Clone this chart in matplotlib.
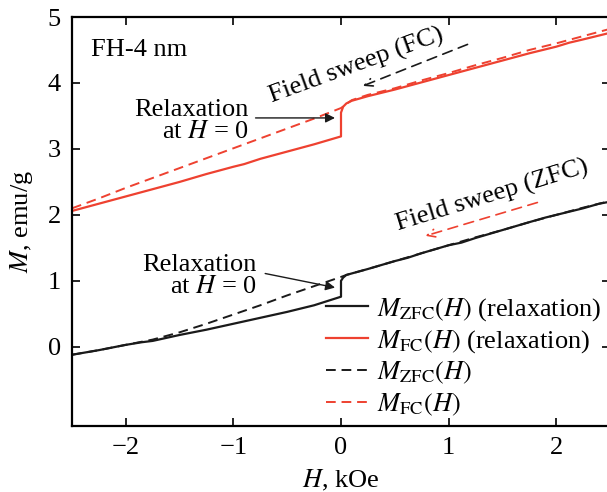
import numpy as np
import matplotlib
matplotlib.use('Agg')
import matplotlib.pyplot as plt

plt.rcParams['font.family'] = ['Liberation Serif', 'DejaVu Serif']
plt.rcParams['mathtext.fontset'] = 'stix'
plt.rcParams['font.size'] = 19

RED = '#ee4130'
BLACK = '#1a1a1a'

# ZFC, relaxation at H = 0 (solid black)
h_zfc_rel = [-2.5, -2.25, -2.0, -1.85, -1.75, -1.5, -1.25, -1.0, -0.75, -0.5, -0.25, 0.0,
             0.0, 0.02, 0.05, 0.25, 0.5, 0.62, 0.75, 1.0, 1.12, 1.25, 1.5, 1.75, 1.9, 2.0, 2.25, 2.4, 2.5]
m_zfc_rel = [-0.12, -0.05, 0.03, 0.07, 0.09, 0.18, 0.26, 0.35, 0.44, 0.53, 0.63, 0.76,
             1.00, 1.05, 1.09, 1.18, 1.30, 1.35, 1.42, 1.54, 1.58, 1.65, 1.77, 1.89, 1.96, 2.00, 2.10, 2.17, 2.20]

# ZFC, field sweep (dashed black)
h_zfc = [-2.5, -2.25, -2.0, -1.75, -1.5, -1.25, -1.0, -0.75, -0.5, -0.25, 0.0,
         0.05, 0.25, 0.5, 0.75, 1.0, 1.25, 1.5, 1.75, 2.0, 2.25, 2.5]
m_zfc = [-0.12, -0.05, 0.03, 0.11, 0.22, 0.35, 0.49, 0.63, 0.78, 0.92, 1.06,
         1.09, 1.18, 1.30, 1.42, 1.54, 1.66, 1.77, 1.89, 2.00, 2.11, 2.21]

# FC, relaxation at H = 0 (solid red)
h_fc_rel = [-2.5, -2.25, -2.0, -1.75, -1.5, -1.25, -1.0, -0.9, -0.75, -0.5, -0.25, 0.0,
            0.0, 0.02, 0.05, 0.1, 0.25, 0.5, 0.75, 1.0, 1.25, 1.5, 1.75, 2.0, 2.12, 2.25, 2.5]
m_fc_rel = [2.06, 2.17, 2.28, 2.39, 2.50, 2.62, 2.73, 2.77, 2.85, 2.96, 3.07, 3.19,
            3.55, 3.64, 3.69, 3.73, 3.80, 3.90, 4.01, 4.12, 4.23, 4.34, 4.45, 4.55, 4.61, 4.66, 4.76]

# FC, field sweep (dashed red)
h_fc = [-2.5, -2.25, -2.0, -1.75, -1.5, -1.25, -1.0, -0.75, -0.5, -0.25, 0.0,
        0.1, 0.25, 0.5, 0.75, 1.0, 1.25, 1.5, 1.75, 2.0, 2.25, 2.5]
m_fc = [2.10, 2.25, 2.41, 2.56, 2.71, 2.86, 3.01, 3.16, 3.31, 3.46, 3.62,
        3.74, 3.82, 3.92, 4.04, 4.15, 4.27, 4.38, 4.50, 4.60, 4.71, 4.82]

x_ticks = [-2, -1, 0, 1, 2]
y_ticks = [0, 1, 2, 3, 4, 5]

fig = plt.figure(figsize=(6.07, 4.92), dpi=100)
ax = fig.add_axes([72/607, 66/492, 538/607, 409/492])

dash = (0, (5, 3))
ax.plot(h_zfc_rel, m_zfc_rel, color=BLACK, lw=1.6, label=r'$M_{\mathrm{ZFC}}(H)$ (relaxation)')
ax.plot(h_fc_rel, m_fc_rel, color=RED, lw=1.6, label=r'$M_{\mathrm{FC}}(H)$ (relaxation)')
ax.plot(h_zfc, m_zfc, color=BLACK, lw=1.4, ls=dash, label=r'$M_{\mathrm{ZFC}}(H)$')
ax.plot(h_fc, m_fc, color=RED, lw=1.4, ls=dash, label=r'$M_{\mathrm{FC}}(H)$')

ax.set_xlim(-2.5, 2.5)
ax.set_ylim(-1.2, 5)
ax.set_xticks(x_ticks)
ax.set_yticks(y_ticks)
ax.tick_params(direction='in', length=6, width=1.2, top=True, right=True, pad=8)
for s in ax.spines.values():
    s.set_linewidth(1.6)
ax.set_xlabel(r'$H$, kOe', labelpad=6)
ax.set_ylabel(r'$M$, emu/g', labelpad=9)

ax.text(-2.32, 4.5, 'FH-4 nm', ha='left', va='center')

# relaxation arrows
ax.text(-0.86, 3.42, 'Relaxation\nat $H$ = 0', ha='right', va='center', linespacing=1.0)
ax.annotate('', xy=(-0.03, 3.47), xytext=(-0.82, 3.47),
            arrowprops=dict(arrowstyle='-|>', color=BLACK, lw=1.0, mutation_scale=14))
ax.text(-0.78, 1.08, 'Relaxation\nat $H$ = 0', ha='right', va='center', linespacing=1.0)
ax.annotate('', xy=(-0.03, 0.89), xytext=(-0.73, 1.12),
            arrowprops=dict(arrowstyle='-|>', color=BLACK, lw=1.0, mutation_scale=14))

# field sweep labels with dashed arrows
ax.text(0.16, 4.17, 'Field sweep (FC)', rotation=20, rotation_mode='anchor',
        ha='center', va='baseline')
ax.annotate('', xy=(0.18, 3.94), xytext=(1.2, 4.6),
            arrowprops=dict(arrowstyle='->', color=BLACK, lw=1.2, ls=(0, (6, 4)), mutation_scale=14))
ax.text(1.42, 2.2, 'Field sweep (ZFC)', rotation=17, rotation_mode='anchor',
        ha='center', va='baseline')
ax.annotate('', xy=(0.76, 1.67), xytext=(1.85, 2.2),
            arrowprops=dict(arrowstyle='->', color=RED, lw=1.2, ls=(0, (6, 4)), mutation_scale=14))

ax.legend(loc='lower right', bbox_to_anchor=(0.985, 0.02), frameon=False,
          handlelength=1.6, handletextpad=0.35, labelspacing=0.2, borderpad=0.0,
          borderaxespad=0.0)

fig.savefig('out.png', dpi=100)
